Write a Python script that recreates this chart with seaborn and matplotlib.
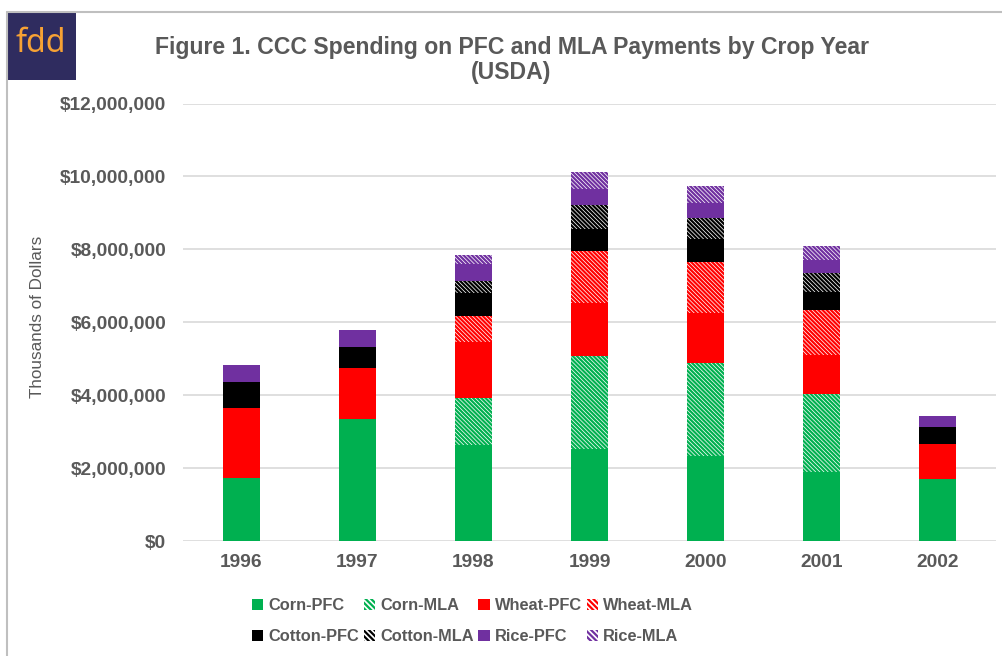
import numpy as np
import pandas as pd
import matplotlib
matplotlib.use("Agg")
import matplotlib.pyplot as plt
import seaborn as sns
from matplotlib.patches import Patch, Rectangle
from matplotlib.lines import Line2D
from matplotlib.ticker import FuncFormatter

# ================= data (thousands of dollars) =================
years = ["1996", "1997", "1998", "1999", "2000", "2001", "2002"]
corn_pfc = [1730000, 3340000, 2640000, 2520000, 2350000, 1890000, 1710000]
corn_mla = [0, 0, 1280000, 2560000, 2540000, 2150000, 0]
wheat_pfc = [1920000, 1420000, 1530000, 1460000, 1360000, 1070000, 970000]
wheat_mla = [0, 0, 720000, 1420000, 1410000, 1240000, 0]
cotton_pfc = [710000, 580000, 640000, 610000, 620000, 480000, 440000]
cotton_mla = [0, 0, 320000, 640000, 580000, 520000, 0]
rice_pfc = [460000, 460000, 480000, 460000, 420000, 350000, 320000]
rice_mla = [0, 0, 230000, 450000, 450000, 400000, 0]

series_names = ["Corn-PFC", "Corn-MLA", "Wheat-PFC", "Wheat-MLA",
                "Cotton-PFC", "Cotton-MLA", "Rice-PFC", "Rice-MLA"]
series_vals = [corn_pfc, corn_mla, wheat_pfc, wheat_mla,
               cotton_pfc, cotton_mla, rice_pfc, rice_mla]
series_cols = ["#00B050", "#00B050", "#FF0000", "#FF0000",
               "#000000", "#000000", "#7030A0", "#7030A0"]
series_hatch = [False, True, False, True, False, True, False, True]

df = pd.DataFrame(dict(zip(series_names, series_vals)), index=years)
cum = df.cumsum(axis=1)

# ================= style =================
sns.set_style("white")
plt.rcParams['font.family'] = ['Liberation Sans', 'DejaVu Sans']
plt.rcParams['hatch.linewidth'] = 1.6
grey = "#595959"
HATCH = "\\" * 8

fig = plt.figure(figsize=(10.03, 6.56), dpi=100)
ax = fig.add_axes([0.1825, 0.1748, 0.8105, 0.6674])

# stacked bars: draw cumulative totals from the top layer down
for name, col, hat in reversed(list(zip(series_names, series_cols, series_hatch))):
    if hat:
        sns.barplot(x=years, y=cum[name].values, color="white", edgecolor=col,
                    hatch=HATCH, linewidth=0, width=0.32, saturation=1, ax=ax)
    else:
        sns.barplot(x=years, y=cum[name].values, color=col, edgecolor=col,
                    linewidth=0, width=0.32, saturation=1, ax=ax)

ax.set_ylim(0, 12000000)
ax.set_yticks(np.arange(0, 12000001, 2000000))
ax.yaxis.set_major_formatter(FuncFormatter(lambda v, p: f"${v:,.0f}"))
ax.grid(axis="y", color="#D9D9D9", linewidth=1.2)
ax.set_axisbelow(True)
for s in ax.spines.values():
    s.set_visible(False)
ax.tick_params(axis="both", length=0)
ax.tick_params(axis="y", pad=12, labelsize=13.8, labelcolor=grey)
ax.tick_params(axis="x", pad=9, labelsize=13.8, labelcolor=grey)
for t in ax.get_yticklabels() + ax.get_xticklabels():
    t.set_fontweight("bold")
ax.set_xlim(-0.5, 6.5)
ax.set_xlabel("")
ax.set_ylabel("Thousands of Dollars", fontsize=12.3, color=grey)
ax.yaxis.set_label_coords(-0.170, 0.513)

# title
fig.text(0.51, 0.927, "Figure 1. CCC Spending on PFC and MLA Payments by Crop Year",
         ha="center", va="center", fontsize=16.6, fontweight="bold", color=grey)
fig.text(0.51, 0.89, "(USDA)", ha="center", va="center",
         fontsize=16.6, fontweight="bold", color=grey)

# border + logo
fig.add_artist(Line2D([7 / 1003, 7 / 1003], [0, 1 - 12 / 656], transform=fig.transFigure,
                      color="#BFBFBF", linewidth=1.5))
fig.add_artist(Line2D([7 / 1003, 1], [1 - 12 / 656, 1 - 12 / 656], transform=fig.transFigure,
                      color="#BFBFBF", linewidth=1.5))
fig.add_artist(Rectangle((7 / 1003, 1 - 80 / 656), 69 / 1003, 68 / 656,
                         transform=fig.transFigure, facecolor="#2F2C5F", edgecolor="none"))
fig.text(41 / 1003, 1 - 44 / 656, "fdd", ha="center", va="center", fontsize=23,
         fontweight="bold", color="#F7A234", family=["Noto Sans", "DejaVu Sans"])

# legend (column-major ordering so rows read like the original)
handles = []
for name, col, hat in zip(series_names, series_cols, series_hatch):
    if hat:
        handles.append(Patch(facecolor="white", edgecolor=col, hatch="\\" * 6, linewidth=0, label=name))
    else:
        handles.append(Patch(facecolor=col, edgecolor=col, linewidth=0, label=name))
order = [0, 4, 1, 5, 2, 6, 3, 7]
leg = fig.legend([handles[i] for i in order], [series_names[i] for i in order],
                 ncol=4, loc="center", bbox_to_anchor=(0.471, 0.053), frameon=False,
                 handlelength=0.7, handleheight=0.7, handletextpad=0.3,
                 columnspacing=0.3, labelspacing=1.0,
                 prop={"size": 11.8, "weight": "bold"})
for t in leg.get_texts():
    t.set_color(grey)

plt.savefig("out.png", dpi=100)
